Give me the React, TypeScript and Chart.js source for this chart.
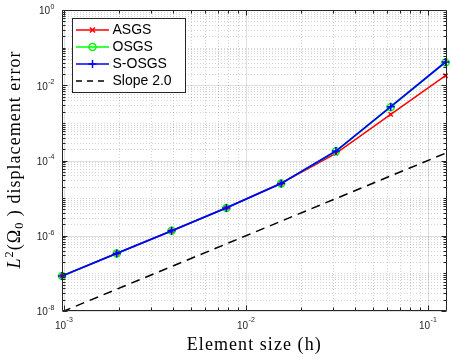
import React, { useEffect, useRef } from "react";
import { Chart, registerables } from "chart.js";

Chart.register(...registerables);

// ---- data ----
const H = [0.125, 0.0625, 0.03125, 0.015625, 0.0078125, 0.00390625, 0.001953125, 0.0009765625];
const ASGS = [0.0179, 0.00169, 0.000155, 2.46e-5, 5.5e-6, 1.35e-6, 3.4e-7, 8.5e-8];
const OSGS = [0.0405, 0.0026, 0.000175, 2.46e-5, 5.5e-6, 1.35e-6, 3.4e-7, 8.5e-8];
const SOSGS = [0.0414, 0.0027, 0.000178, 2.46e-5, 5.5e-6, 1.35e-6, 3.4e-7, 8.5e-8];
const SLOPE_H = [0.0009765625, 0.125];
const SLOPE = [9.5e-9, 1.56e-4];

const LEGEND_LABELS = ["ASGS", "OSGS", "S-OSGS", "Slope 2.0"];
const X_MAJOR = [0.001, 0.01, 0.1];
const X_TICK_EXP = ["-3", "-2", "-1"];
const Y_MAJOR = [1e-8, 1e-6, 1e-4, 1e-2, 1];
const Y_TICK_EXP = ["-8", "-6", "-4", "-2", "0"];
const X_TITLE = "Element size (h)";
const Y_TITLE_REST = " displacement error";

const XMIN = 0.0009765625;
const XMAX = 0.125;
const YMIN = 1e-8;
const YMAX = 1;

const RED = "#ff0000";
const GREEN = "#00ff00";
const BLUE = "#0000ff";
const AXIS = "#262626";
const SANS = '"Liberation Sans", Arial, sans-serif';
const SERIF = '"Liberation Serif", "Times New Roman", serif';

const pts = (xs: number[], ys: number[]) => xs.map((x, i) => ({ x, y: ys[i] }));

function minorValues(lo: number, hi: number, majors: number[]) {
  const out: number[] = [];
  for (let e = -9; e <= 1; e++) {
    for (let k = 1; k <= 9; k++) {
      const v = k * Math.pow(10, e);
      if (v < lo * 0.9999 || v > hi * 1.0001) continue;
      if (majors.some((m) => Math.abs(m - v) / m < 1e-6)) continue;
      out.push(v);
    }
  }
  return out;
}

function drawMarker(ctx: CanvasRenderingContext2D, kind: string, x: number, y: number, color: string) {
  ctx.save();
  ctx.strokeStyle = color;
  ctx.lineWidth = 1.5;
  ctx.setLineDash([]);
  ctx.beginPath();
  if (kind === "x") {
    const r = 2.5;
    ctx.moveTo(x - r, y - r); ctx.lineTo(x + r, y + r);
    ctx.moveTo(x - r, y + r); ctx.lineTo(x + r, y - r);
  } else if (kind === "o") {
    ctx.arc(x, y, 3.5, 0, Math.PI * 2);
  } else if (kind === "+") {
    const r = 4;
    ctx.moveTo(x - r, y); ctx.lineTo(x + r, y);
    ctx.moveTo(x, y - r); ctx.lineTo(x, y + r);
  }
  ctx.stroke();
  ctx.restore();
}

const matlabAxes = {
  id: "matlabAxes",
  beforeDatasetsDraw(chart: any) {
    const { ctx, chartArea: a, scales } = chart;
    const xs = scales.x, ys = scales.y;
    ctx.save();
    ctx.lineWidth = 1;
    // minor grid
    ctx.strokeStyle = "rgba(38,38,38,0.2)";
    ctx.setLineDash([1, 2]);
    ctx.beginPath();
    for (const v of minorValues(XMIN, XMAX, X_MAJOR)) {
      const p = Math.round(xs.getPixelForValue(v)) + 0.5;
      ctx.moveTo(p, a.top); ctx.lineTo(p, a.bottom);
    }
    for (const v of minorValues(YMIN, YMAX, Y_MAJOR)) {
      const p = Math.round(ys.getPixelForValue(v)) + 0.5;
      ctx.moveTo(a.left, p); ctx.lineTo(a.right, p);
    }
    ctx.stroke();
    // major grid
    ctx.setLineDash([]);
    ctx.strokeStyle = "rgba(38,38,38,0.15)";
    ctx.beginPath();
    for (const v of X_MAJOR) {
      const p = Math.round(xs.getPixelForValue(v)) + 0.5;
      ctx.moveTo(p, a.top); ctx.lineTo(p, a.bottom);
    }
    for (const v of Y_MAJOR) {
      const p = Math.round(ys.getPixelForValue(v)) + 0.5;
      ctx.moveTo(a.left, p); ctx.lineTo(a.right, p);
    }
    ctx.stroke();
    ctx.restore();
  },
  afterDraw(chart: any) {
    const { ctx, chartArea: a, scales } = chart;
    const xs = scales.x, ys = scales.y;
    const L = Math.round(a.left) + 0.5;
    const R = Math.round(a.right) + 0.5;
    const T = Math.round(a.top) + 0.5;
    const B = Math.round(a.bottom) - 0.5;
    ctx.save();
    ctx.setLineDash([]);
    ctx.strokeStyle = AXIS;
    ctx.lineWidth = 1;
    // box
    ctx.beginPath();
    ctx.rect(L, T, R - L, B - T);
    ctx.stroke();
    // ticks
    ctx.beginPath();
    const xt = (v: number, len: number) => {
      const p = Math.round(xs.getPixelForValue(v)) + 0.5;
      ctx.moveTo(p, B); ctx.lineTo(p, B - len);
      ctx.moveTo(p, T); ctx.lineTo(p, T + len);
    };
    const yt = (v: number, len: number) => {
      const p = Math.round(ys.getPixelForValue(v)) + 0.5;
      ctx.moveTo(L, p); ctx.lineTo(L + len, p);
      ctx.moveTo(R, p); ctx.lineTo(R - len, p);
    };
    X_MAJOR.forEach((v) => xt(v, 5));
    minorValues(XMIN, XMAX, X_MAJOR).forEach((v) => xt(v, 3));
    Y_MAJOR.forEach((v) => yt(v, 5));
    minorValues(YMIN, YMAX, Y_MAJOR).forEach((v) => yt(v, 3));
    ctx.stroke();

    // tick labels
    ctx.fillStyle = AXIS;
    ctx.textBaseline = "middle";
    const baseFont = `10px ${SANS}`;
    const expFont = `7px ${SANS}`;
    X_MAJOR.forEach((v, i) => {
      const p = xs.getPixelForValue(v);
      ctx.font = baseFont;
      const wb = ctx.measureText("10").width;
      ctx.font = expFont;
      const we = ctx.measureText(X_TICK_EXP[i]).width;
      const x0 = p - (wb + we + 0.5) / 2;
      ctx.textAlign = "left";
      ctx.font = baseFont;
      ctx.fillText("10", x0, a.bottom + 15.5);
      ctx.font = expFont;
      ctx.fillText(X_TICK_EXP[i], x0 + wb + 0.5, a.bottom + 9.5);
    });
    Y_MAJOR.forEach((v, i) => {
      const p = ys.getPixelForValue(v);
      ctx.font = expFont;
      const we = ctx.measureText(Y_TICK_EXP[i]).width;
      const right = a.left - 7.5;
      ctx.textAlign = "left";
      ctx.fillText(Y_TICK_EXP[i], right - we, p - 3);
      ctx.font = baseFont;
      ctx.textAlign = "right";
      ctx.fillText("10", right - we - 0.5, p + 1.5);
    });

    // x title
    ctx.fillStyle = "#000";
    ctx.font = `18px ${SERIF}`;
    ctx.textAlign = "left";
    ctx.textBaseline = "alphabetic";
    const targetX = 134;
    const wx = ctx.measureText(X_TITLE).width;
    const lsx = (targetX - wx) / (X_TITLE.length - 1);
    (ctx as any).letterSpacing = `${lsx}px`;
    const cxTitle = (a.left + a.right) / 2;
    ctx.fillText(X_TITLE, cxTitle - targetX / 2, 350);
    (ctx as any).letterSpacing = "0px";

    // y title:  L^2(Ω_0) displacement error
    ctx.save();
    ctx.translate(20, (a.top + a.bottom) / 2 - 1);
    ctx.rotate(-Math.PI / 2);
    const fs = 18;
    const pieces = [
      { t: "L", f: `italic ${fs}px ${SERIF}`, dy: 0 },
      { t: "2", f: `${fs * 0.68}px ${SERIF}`, dy: -7 },
      { t: "(", f: `${fs}px ${SERIF}`, dy: 0 },
      { t: "Ω", f: `${fs}px ${SERIF}`, dy: 0 },
      { t: "0", f: `${fs * 0.68}px ${SERIF}`, dy: 3 },
      { t: " )", f: `${fs}px ${SERIF}`, dy: 0 },
      { t: Y_TITLE_REST, f: `${fs}px ${SERIF}`, dy: 0 },
    ];
    let total = 0;
    let nChars = 0;
    for (const pc of pieces) {
      ctx.font = pc.f;
      total += ctx.measureText(pc.t).width;
      nChars += pc.t.length;
    }
    const targetY = 218;
    const lsy = (targetY - total) / nChars;
    (ctx as any).letterSpacing = `${lsy}px`;
    let cx = -targetY / 2;
    for (const pc of pieces) {
      ctx.font = pc.f;
      ctx.fillText(pc.t, cx, pc.dy);
      cx += ctx.measureText(pc.t).width;
    }
    (ctx as any).letterSpacing = "0px";
    ctx.restore();

    // legend
    const lx0 = 72.5, ly0 = 18.5, lw = 113, lh = 74;
    ctx.fillStyle = "#fff";
    ctx.fillRect(lx0, ly0, lw, lh);
    ctx.strokeStyle = AXIS;
    ctx.lineWidth = 1;
    ctx.strokeRect(lx0, ly0, lw, lh);
    const rows = [30, 47, 64, 81];
    const cols = [RED, GREEN, BLUE, "#000"];
    const marks = ["x", "o", "+", ""];
    rows.forEach((ry, i) => {
      ctx.save();
      ctx.strokeStyle = cols[i];
      ctx.lineWidth = 1.5;
      ctx.setLineDash(i === 3 ? [6, 5] : []);
      ctx.beginPath();
      ctx.moveTo(76, ry); ctx.lineTo(109, ry);
      ctx.stroke();
      ctx.restore();
      if (marks[i]) drawMarker(ctx, marks[i], 92.5, ry, cols[i]);
      ctx.fillStyle = "#000";
      ctx.font = `14px ${SANS}`;
      ctx.textAlign = "left";
      ctx.textBaseline = "middle";
      ctx.fillText(LEGEND_LABELS[i], 112.5, ry + 0.5);
    });
    ctx.restore();
  },
};

export default function App() {
  const ref = useRef<HTMLCanvasElement>(null);
  useEffect(() => {
    if (!ref.current) return;
    const chart = new Chart(ref.current, {
      type: "line",
      data: {
        datasets: [
          {
            label: LEGEND_LABELS[3], data: pts(SLOPE_H, SLOPE), borderColor: "#000", borderWidth: 1.5,
            borderDash: [9, 6], pointRadius: 0, order: 4, fill: false,
          },
          {
            label: LEGEND_LABELS[0], data: pts(H, ASGS), borderColor: RED, backgroundColor: RED, borderWidth: 1.5,
            pointStyle: "crossRot", pointRadius: 3, pointBorderWidth: 1.5, order: 3, clip: false as any,
          },
          {
            label: LEGEND_LABELS[1], data: pts(H, OSGS), borderColor: GREEN, backgroundColor: "rgba(0,0,0,0)", borderWidth: 1.5,
            pointStyle: "circle", pointRadius: 3.5, pointBorderWidth: 1.5, order: 2, clip: false as any,
          },
          {
            label: LEGEND_LABELS[2], data: pts(H, SOSGS), borderColor: BLUE, backgroundColor: BLUE, borderWidth: 1.8,
            pointStyle: "cross", pointRadius: 4, pointBorderWidth: 1.5, order: 1, clip: false as any,
          },
        ],
      },
      options: {
        animation: false,
        responsive: false,
        maintainAspectRatio: false,
        layout: { padding: { left: 62, top: 10, right: 1, bottom: 51 } },
        scales: {
          x: { type: "logarithmic", min: XMIN, max: XMAX, display: false },
          y: { type: "logarithmic", min: YMIN, max: YMAX, display: false },
        },
        plugins: { legend: { display: false }, tooltip: { enabled: false } },
      },
      plugins: [matlabAxes],
    });
    return () => chart.destroy();
  }, []);
  return (
    <div style={{ position: "absolute", left: 0, top: 0, width: 451, height: 362, background: "#fff" }}>
      <canvas ref={ref} width={451} height={362} style={{ display: "block", width: 451, height: 362 }} />
    </div>
  );
}
